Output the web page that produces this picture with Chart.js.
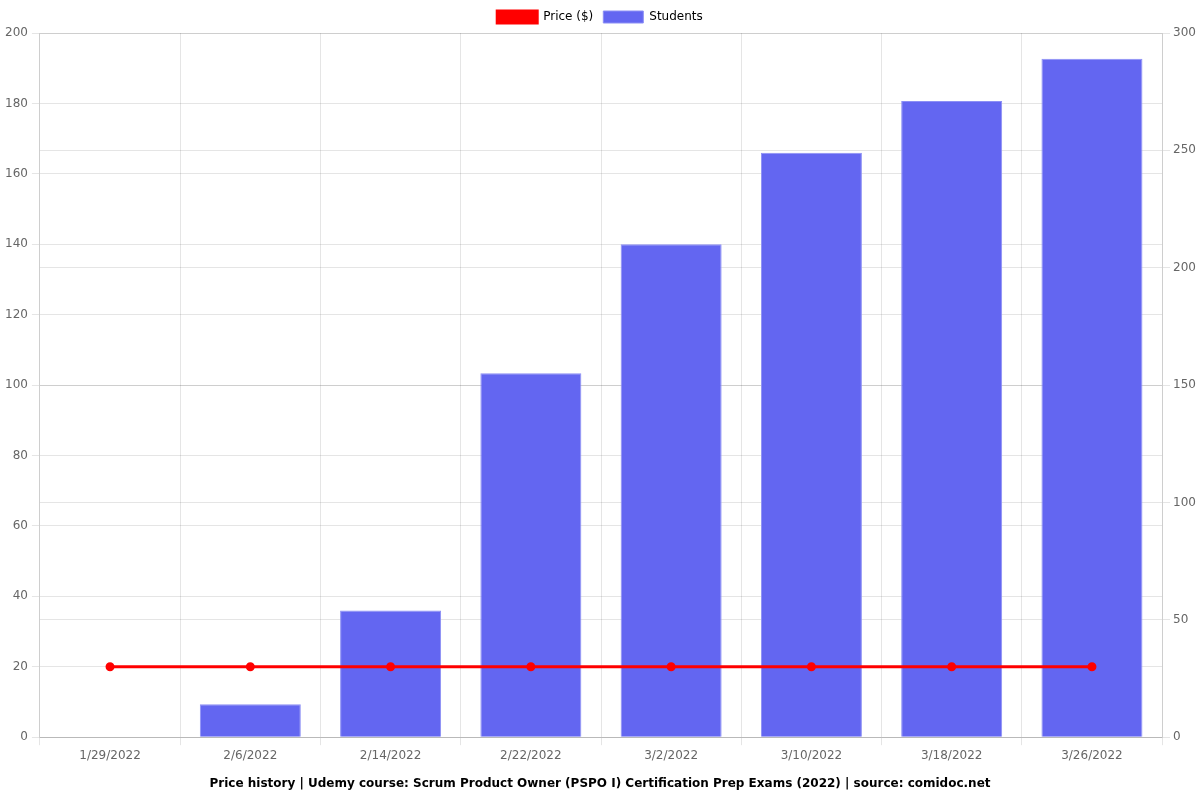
<!DOCTYPE html>
<html>
<head>
<meta charset="utf-8">
<script src="https://cdn.jsdelivr.net/npm/chart.js@4"></script>
<style>
html,body{margin:0;padding:0;background:#fff;}
#wrap{width:1200px;height:800px;position:relative;}
</style>
</head>
<body>
<div id="wrap"><canvas id="c"></canvas></div>
<script>
const categories = ["1/29/2022","2/6/2022","2/14/2022","2/22/2022","3/2/2022","3/10/2022","3/18/2022","3/26/2022"];
const priceValues = [20,20,20,20,20,20,20,20];
const studentValues = [0,14,54,155,210,249,271,289];
const titleText = "Price history | Udemy course: Scrum Product Owner (PSPO I) Certification Prep Exams (2022) | source: comidoc.net";

Chart.defaults.font.family = "'DejaVu Sans', sans-serif";
Chart.defaults.font.size = 12;
Chart.defaults.color = '#666';

new Chart(document.getElementById('c'), {
  type: 'bar',
  data: {
    labels: categories,
    datasets: [
      {
        type: 'line',
        label: 'Price ($)',
        data: priceValues,
        yAxisID: 'y',
        borderColor: '#ff0000',
        backgroundColor: '#ff0000',
        borderWidth: 3,
        pointRadius: 3,
        pointBackgroundColor: '#ff0000',
        pointBorderColor: '#ff0000',
        order: 0
      },
      {
        type: 'bar',
        label: 'Students',
        data: studentValues,
        yAxisID: 'y1',
        backgroundColor: '#6366f1',
        borderColor: 'rgba(140,143,245,1)',
        borderWidth: 1,
        order: 1
      }
    ]
  },
  options: {
    responsive: true,
    maintainAspectRatio: false,
    animation: false,
    layout: { padding: { left: 1, right: 1, top: 1, bottom: 0 } },
    plugins: {
      legend: {
        position: 'top',
        labels: { color: '#000', boxWidth: 40, boxHeight: 12 }
      },
      title: {
        display: true,
        position: 'bottom',
        text: titleText,
        color: '#000',
        font: { weight: 'bold', size: 12 },
        padding: { top: 11, bottom: 9 }
      },
      tooltip: { enabled: false }
    },
    scales: {
      x: {
        grid: { color: 'rgba(0,0,0,0.1)' },
        ticks: { color: '#666' }
      },
      y: {
        position: 'left',
        min: 0, max: 200,
        ticks: { stepSize: 20, color: '#666', padding: 4 },
        grid: { color: 'rgba(0,0,0,0.1)' }
      },
      y1: {
        position: 'right',
        min: 0, max: 300,
        ticks: { stepSize: 50, color: '#666' },
        grid: { color: 'rgba(0,0,0,0.1)' }
      }
    }
  }
});
</script>
</body>
</html>
